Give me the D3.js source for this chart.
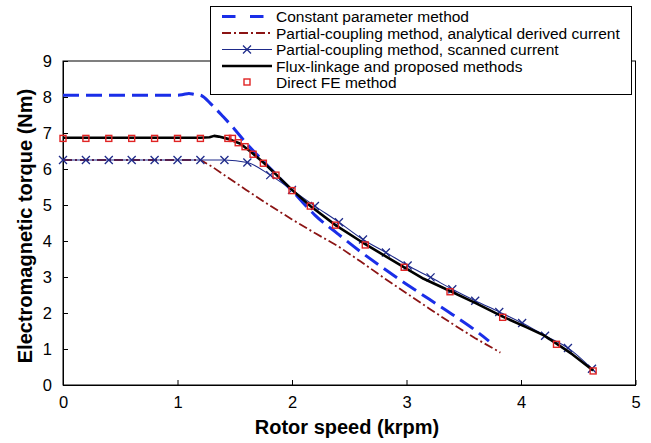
<!DOCTYPE html>
<html><head><meta charset="utf-8">
<script src="https://cdn.jsdelivr.net/npm/d3@7"></script>
<style>body{margin:0;background:#fff}svg{display:block;font-family:"Liberation Sans",Arial,sans-serif}</style>
</head><body>
<script>
// ---- data ----
const xTicks = [0,1,2,3,4,5];
const yTicks = [0,1,2,3,4,5,6,7,8,9];
const legendLabels = ["Constant parameter method","Partial-coupling method, analytical derived current","Partial-coupling method, scanned current","Flux-linkage and proposed methods","Direct FE method"];

const constX = [0,0.5,1.0,1.05,1.1,1.15,1.2,1.3,1.4,1.5,1.6,1.7,1.8,1.9,2.0,2.1,2.2,2.4,2.6,2.8,3.0,3.2,3.4,3.6,3.72];
const constY = [8.05,8.05,8.05,8.07,8.1,8.07,8.05,7.78,7.45,7.1,6.72,6.38,6.05,5.72,5.4,5.05,4.72,4.2,3.7,3.24,2.8,2.38,1.96,1.52,1.22];

const analX = [0,1.2,1.3,1.4,1.6,1.8,2.0,2.2,2.4,2.6,2.8,3.0,3.2,3.4,3.6,3.82];
const analY = [6.25,6.25,6.07,5.85,5.42,5.0,4.6,4.22,3.86,3.43,2.98,2.55,2.12,1.7,1.3,0.9];

const scanX = [0,0.2,0.4,0.6,0.8,1.0,1.2,1.41,1.61,1.81,2.0,2.2,2.41,2.62,2.82,3.01,3.21,3.4,3.6,3.81,4.01,4.21,4.41,4.62];
const scanY = [6.25,6.25,6.25,6.25,6.25,6.25,6.25,6.25,6.18,5.83,5.42,4.97,4.52,4.04,3.68,3.32,2.99,2.66,2.34,2.03,1.72,1.37,1.03,0.45];

const fluxX = [0,1.2,1.28,1.32,1.36,1.45,1.55,1.65,1.75,1.86,2.0,2.16,2.38,2.64,2.98,3.15,3.38,3.6,3.84,4.05,4.2,4.31,4.45,4.63];
const fluxY = [6.87,6.87,6.88,6.92,6.9,6.83,6.7,6.45,6.18,5.85,5.42,4.97,4.44,3.91,3.27,2.95,2.61,2.28,1.9,1.6,1.38,1.15,0.85,0.40];

const feX = [0,0.2,0.4,0.6,0.8,1.0,1.2,1.44,1.48,1.53,1.59,1.66,1.75,1.86,2.0,2.16,2.38,2.64,2.98,3.38,3.84,4.31,4.63];
const feY = [6.85,6.85,6.85,6.85,6.85,6.85,6.85,6.85,6.85,6.73,6.62,6.41,6.16,5.83,5.40,4.97,4.44,3.89,3.27,2.59,1.88,1.13,0.39];

// ---- layout ----
const W = 651, H = 443;
const L = 63, R = 635.5, T = 61, B = 385;
const svg = d3.select("body").append("svg").attr("width", W).attr("height", H);
const x = d3.scaleLinear().domain([0,5]).range([L,R]);
const y = d3.scaleLinear().domain([0,9]).range([B,T]);
const zip = (a,b) => a.map((v,i) => [v,b[i]]);

const COL_CONST = "#1a2ee8", COL_ANAL = "#8b1414", COL_SCAN = "#1e2a8a", COL_FLUX = "#000", COL_FE = "#e02424";

// frame
svg.append("rect").attr("x",L).attr("y",T).attr("width",R-L).attr("height",B-T)
  .attr("fill","none").attr("stroke","#000").attr("stroke-width",1);

// axes
const xAxis = svg.append("g").attr("transform",`translate(0,${B})`)
  .call(d3.axisBottom(x).tickValues(xTicks).tickFormat(d3.format("d")).tickSizeInner(-5).tickSizeOuter(0).tickPadding(11));
const yAxis = svg.append("g").attr("transform",`translate(${L},0)`)
  .call(d3.axisLeft(y).tickValues(yTicks).tickFormat(d3.format("d")).tickSizeInner(-5).tickSizeOuter(0).tickPadding(11));
[xAxis,yAxis].forEach(g => {
  g.select(".domain").attr("stroke","#000");
  g.selectAll(".tick line").attr("stroke","#000");
  g.selectAll(".tick text").attr("font-size","16.5px").attr("fill","#000").attr("font-family","Liberation Sans, Arial, sans-serif");
});

const line = d3.line().x(d=>x(d[0])).y(d=>y(d[1]));
const smooth = d3.line().x(d=>x(d[0])).y(d=>y(d[1])).curve(d3.curveMonotoneX);

const plot = svg.append("g");
// analytical dash-dot
plot.append("path").attr("d", line(zip(analX,analY))).attr("fill","none")
  .attr("stroke",COL_ANAL).attr("stroke-width",1.8).attr("stroke-dasharray","9,3,2,3");
// constant parameter dashed
plot.append("path").attr("d", smooth(zip(constX,constY))).attr("fill","none")
  .attr("stroke",COL_CONST).attr("stroke-width",3).attr("stroke-dasharray","16,7");
// scanned current thin line with x markers
plot.append("path").attr("d", smooth(zip(scanX,scanY))).attr("fill","none")
  .attr("stroke",COL_SCAN).attr("stroke-width",1.1);
const xm = 4;
plot.selectAll(".xm").data(zip(scanX,scanY)).join("path").attr("class","xm")
  .attr("d", d => `M${x(d[0])-xm},${y(d[1])-xm}L${x(d[0])+xm},${y(d[1])+xm}M${x(d[0])-xm},${y(d[1])+xm}L${x(d[0])+xm},${y(d[1])-xm}`)
  .attr("stroke",COL_SCAN).attr("stroke-width",1.3).attr("fill","none");
// flux linkage black
plot.append("path").attr("d", line(zip(fluxX,fluxY))).attr("fill","none")
  .attr("stroke",COL_FLUX).attr("stroke-width",2.6).attr("stroke-linejoin","round");
// FE squares
const sq = 3;
plot.selectAll(".sq").data(zip(feX,feY)).join("rect").attr("class","sq")
  .attr("x", d=>x(d[0])-sq).attr("y", d=>y(d[1])-sq).attr("width",2*sq).attr("height",2*sq)
  .attr("fill","none").attr("stroke",COL_FE).attr("stroke-width",1.4);

// axis titles
svg.append("text").attr("x",347).attr("y",434).attr("text-anchor","middle")
  .attr("font-size","20px").attr("font-weight","bold").text("Rotor speed (krpm)");
svg.append("text").attr("transform","translate(32,226) rotate(-90)").attr("text-anchor","middle")
  .attr("font-size","20px").attr("font-weight","bold").text("Electromagnetic torque (Nm)");

// legend
const lg = svg.append("g");
lg.append("rect").attr("x",210.5).attr("y",6.5).attr("width",421).attr("height",88)
  .attr("fill","#fff").attr("stroke","#000").attr("stroke-width",1);
const rowY = [16.5,33,49.5,66,82];
const lx0 = 222, lx1 = 272;
const styles = [
  {stroke:COL_CONST, w:3, dash:"13.5,14.5"},
  {stroke:COL_ANAL, w:1.8, dash:"9,3,2,3"},
  {stroke:COL_SCAN, w:1.1, dash:null, marker:"x"},
  {stroke:COL_FLUX, w:2.6, dash:null},
  {stroke:null, marker:"sq"}
];
styles.forEach((s,i) => {
  const yy = rowY[i];
  if (s.stroke) {
    const p = lg.append("line").attr("x1",lx0).attr("x2",lx1).attr("y1",yy).attr("y2",yy)
      .attr("stroke",s.stroke).attr("stroke-width",s.w);
    if (s.dash) p.attr("stroke-dasharray",s.dash);
  }
  const cx = (lx0+lx1)/2;
  if (s.marker === "x") {
    lg.append("path").attr("d",`M${cx-xm},${yy-xm}L${cx+xm},${yy+xm}M${cx-xm},${yy+xm}L${cx+xm},${yy-xm}`)
      .attr("stroke",COL_SCAN).attr("stroke-width",1.3);
  }
  if (s.marker === "sq") {
    lg.append("rect").attr("x",cx-sq).attr("y",yy-sq).attr("width",2*sq).attr("height",2*sq)
      .attr("fill","none").attr("stroke",COL_FE).attr("stroke-width",1.4);
  }
  lg.append("text").attr("x",276).attr("y",yy+5.5).attr("font-size","15.5px").attr("fill","#000").text(legendLabels[i]);
});
</script>
</body></html>
